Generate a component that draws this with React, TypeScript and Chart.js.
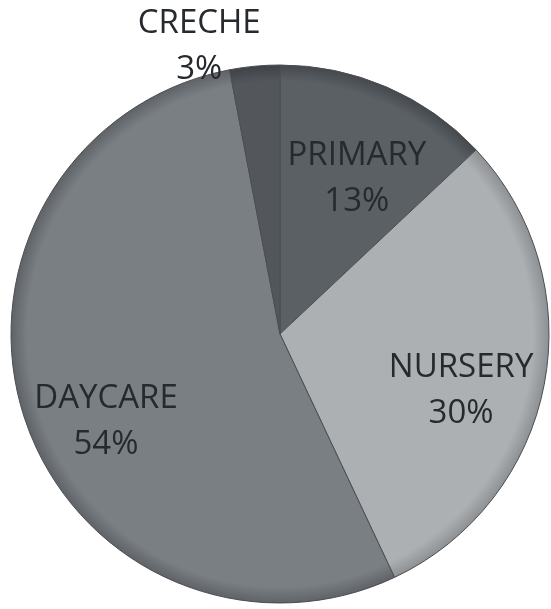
import React, { useEffect, useRef } from "react";
import { Chart, registerables } from "chart.js";

Chart.register(...registerables);

const categories = ["PRIMARY", "NURSERY", "DAYCARE", "CRECHE"];
const shares = [13, 30, 54, 3];
const percentLabels = ["13%", "30%", "54%", "3%"];
const sliceColors = ["#5b6064", "#adb0b3", "#7a7f83", "#53575b"];
const rimColors = ["#45494d", "#8e9194", "#5f6367", "#3f4347"];

// label placement: angle from 12 o'clock (deg, clockwise) and distance as fraction of radius
const labelAngle = [26.3, 107.3, 243.3, 344.3];
const labelDist = [0.645, 0.705, 0.724, 1.11];

const FONT = "'Open Sans', 'Noto Sans', sans-serif";

const labelPlugin = {
  id: "sliceLabels",
  afterDatasetsDraw(chart: any) {
    const meta = chart.getDatasetMeta(0);
    const ctx = chart.ctx;
    ctx.save();
    ctx.font = `33px ${FONT}`;
    ctx.fillStyle = "#262a2e";
    ctx.textAlign = "center";
    ctx.textBaseline = "middle";
    meta.data.forEach((arc: any, i: number) => {
      const { x, y, outerRadius } = arc.getProps(["x", "y", "outerRadius"], true);
      const a = ((labelAngle[i] - 90) * Math.PI) / 180;
      const d = labelDist[i] * outerRadius;
      const cx = x + d * Math.cos(a);
      const cy = y + d * Math.sin(a);
      ctx.fillText(categories[i], cx, cy - 23);
      ctx.fillText(percentLabels[i], cx, cy + 23);
    });
    ctx.restore();
  },
};

export default function App() {
  const ref = useRef<HTMLCanvasElement | null>(null);
  useEffect(() => {
    document.body.style.margin = "0";
    const canvas = ref.current!;
    const R = 269;
    const chart = new Chart(canvas, {
      type: "pie",
      data: {
        labels: categories,
        datasets: [
          {
            data: shares,
            backgroundColor: (c: any) => {
              const ch = c.chart;
              const area = ch.chartArea;
              if (!area) return sliceColors[c.dataIndex];
              const cx = (area.left + area.right) / 2;
              const cy = (area.top + area.bottom) / 2;
              const g = ch.ctx.createRadialGradient(cx, cy, 0, cx, cy, R);
              g.addColorStop(0, sliceColors[c.dataIndex]);
              g.addColorStop(0.94, sliceColors[c.dataIndex]);
              g.addColorStop(1, rimColors[c.dataIndex]);
              return g;
            },
            borderColor: "#4a4e52",
            borderWidth: 1,
          },
        ],
      },
      options: {
        responsive: false,
        animation: false,
        radius: R,
        layout: { padding: { left: 9, right: 0, top: 59, bottom: 0 } },
        plugins: {
          legend: { display: false },
          tooltip: { enabled: false },
        },
      },
      plugins: [labelPlugin],
    });
    return () => chart.destroy();
  }, []);
  return (
    <div style={{ position: "relative", width: 551, height: 609, background: "#ffffff" }}>
      <canvas ref={ref} width={551} height={609} style={{ display: "block" }} />
    </div>
  );
}
